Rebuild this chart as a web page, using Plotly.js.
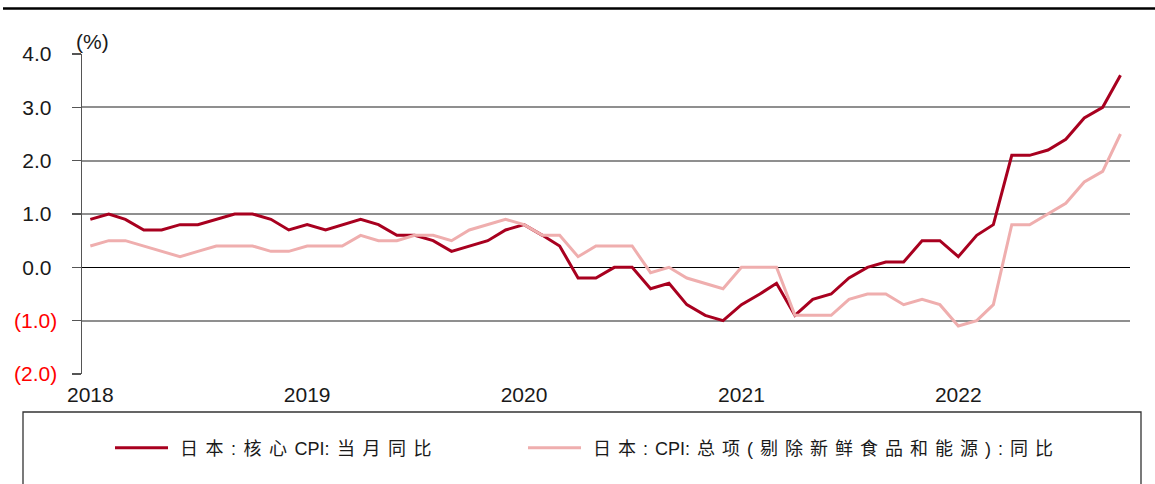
<!DOCTYPE html>
<html>
<head>
<meta charset="utf-8">
<script src="https://cdn.plot.ly/plotly-3.0.1.min.js"></script>
<style>
html, body { margin: 0; padding: 0; background: #fff; }
#chart { width: 1155px; height: 484px; }
.legend .traces:nth-of-type(1) .legendtext { letter-spacing: 7.5px; }
.legend .traces:nth-of-type(2) .legendtext { letter-spacing: 7px; }
</style>
</head>
<body>
<div id="chart"></div>
<script>
// ---- data (monthly, Jan 2018 – Oct 2022) ----
const startYear = 2018;
const startMonth = 1;
const coreCPI = [
  0.9, 1.0, 0.9, 0.7, 0.7, 0.8, 0.8, 0.9, 1.0, 1.0, 0.9, 0.7,
  0.8, 0.7, 0.8, 0.9, 0.8, 0.6, 0.6, 0.5, 0.3, 0.4, 0.5, 0.7,
  0.8, 0.6, 0.4, -0.2, -0.2, 0.0, 0.0, -0.4, -0.3, -0.7, -0.9, -1.0,
  -0.7, -0.5, -0.3, -0.9, -0.6, -0.5, -0.2, 0.0, 0.1, 0.1, 0.5, 0.5,
  0.2, 0.6, 0.8, 2.1, 2.1, 2.2, 2.4, 2.8, 3.0, 3.6
];
const coreCoreCPI = [
  0.4, 0.5, 0.5, 0.4, 0.3, 0.2, 0.3, 0.4, 0.4, 0.4, 0.3, 0.3,
  0.4, 0.4, 0.4, 0.6, 0.5, 0.5, 0.6, 0.6, 0.5, 0.7, 0.8, 0.9,
  0.8, 0.6, 0.6, 0.2, 0.4, 0.4, 0.4, -0.1, 0.0, -0.2, -0.3, -0.4,
  0.0, 0.0, 0.0, -0.9, -0.9, -0.9, -0.6, -0.5, -0.5, -0.7, -0.6, -0.7,
  -1.1, -1.0, -0.7, 0.8, 0.8, 1.0, 1.2, 1.6, 1.8, 2.5
];
const seriesNames = [
  '日本:核心<span style="letter-spacing:0px">CPI</span>:当月同比',
  '日本:<span style="letter-spacing:0px">CPI</span>:总项(剔除新鲜食品和能源):同比'
];
const xTickVals = ['2018-01-01', '2019-01-01', '2020-01-01', '2021-01-01', '2022-01-01'];
const xTickText = ['2018', '2019', '2020', '2021', '2022'];
const yTickVals = [4, 3, 2, 1, 0, -1, -2];
const yTickText = ['4.0', '3.0', '2.0', '1.0', '0.0', '(1.0)', '(2.0)'];
const unitLabel = '(%)';

// month categories
const months = coreCPI.map((_, i) => {
  const m = startMonth - 1 + i;
  const y = startYear + Math.floor(m / 12);
  const mm = (m % 12) + 1;
  return y + '-' + String(mm).padStart(2, '0') + '-01';
});

const yTickLabels = yTickVals.map((v, i) =>
  v < 0 ? '<span style="color:#ff0000">' + yTickText[i] + '</span>' : yTickText[i] + '\u00a0');

const PL = 82, PR = 1130, PT = 54, PB = 374;
const W = 1155, H = 484;
const px = x => (x - PL) / (PR - PL);
const py = y => (PB - y) / (PB - PT);

const traces = [
  { x: months, y: coreCPI, name: seriesNames[0], type: 'scatter', mode: 'lines',
    line: { color: '#A8001F', width: 3 } },
  { x: months, y: coreCoreCPI, name: seriesNames[1], type: 'scatter', mode: 'lines',
    line: { color: '#EFAEAE', width: 3 } }
];

const layout = {
  width: W, height: H,
  margin: { l: PL, r: W - PR, t: PT, b: H - PB, pad: 0 },
  paper_bgcolor: '#ffffff', plot_bgcolor: '#ffffff',
  font: { family: 'Liberation Sans, Arial, sans-serif', color: '#1a1a1a', size: 21 },
  showlegend: true,
  legend: {
    orientation: 'h', x: px(140), xanchor: 'left', y: py(448), yanchor: 'middle',
    font: { family: 'Liberation Sans, Noto Sans CJK SC, sans-serif', size: 18, color: '#1a1a1a' },
    entrywidth: 368, entrywidthmode: 'pixels', bgcolor: 'rgba(0,0,0,0)', borderwidth: 0,
    traceorder: 'normal'
  },
  xaxis: {
    type: 'date', range: ['2017-12-18', '2022-10-17'],
    tickmode: 'array', tickvals: xTickVals, ticktext: xTickText,
    showgrid: false, zeroline: false, showline: false, ticks: '',
    ticklabelstandoff: 6,
    tickfont: { size: 21, color: '#1a1a1a' }
  },
  yaxis: {
    range: [-2, 4], tickmode: 'array', tickvals: yTickVals, ticktext: yTickLabels,
    showgrid: true, gridcolor: '#8f8f8f', gridwidth: 2,
    zeroline: true, zerolinecolor: '#000000', zerolinewidth: 1,
    showline: true, linecolor: '#555555', linewidth: 1.5,
    ticks: 'outside', ticklen: 9, tickwidth: 1.5, tickcolor: '#555555',
    ticklabelstandoff: 10,
    tickfont: { size: 21, color: '#1a1a1a' }
  },
  shapes: [
    { type: 'line', xref: 'paper', yref: 'paper', x0: px(3), x1: px(1155), y0: py(8.5), y1: py(8.5),
      line: { color: '#000000', width: 2.7 } },
    { type: 'rect', xref: 'paper', yref: 'paper', x0: px(23), x1: px(1141), y0: py(412), y1: py(520),
      line: { color: '#333333', width: 1.3 }, fillcolor: 'rgba(0,0,0,0)' }
  ],
  annotations: [
    { text: unitLabel, xref: 'paper', yref: 'paper', x: px(74), y: py(41), xanchor: 'left', yanchor: 'middle',
      showarrow: false, font: { size: 21, color: '#1a1a1a' } }
  ]
};

function patchLegend(gd) {
  // lengthen legend line samples and let the spaced text show fully
  gd.querySelectorAll('.legend .legendlines path').forEach(p => p.setAttribute('d', 'M-25,0h53'));
  gd.querySelectorAll('.legend [clip-path]').forEach(e => e.removeAttribute('clip-path'));
}

Plotly.newPlot('chart', traces, layout, { displayModeBar: false, staticPlot: true }).then(gd => {
  patchLegend(gd);
  setTimeout(() => patchLegend(gd), 0);
  setTimeout(() => patchLegend(gd), 150);
});
</script>
</body>
</html>
